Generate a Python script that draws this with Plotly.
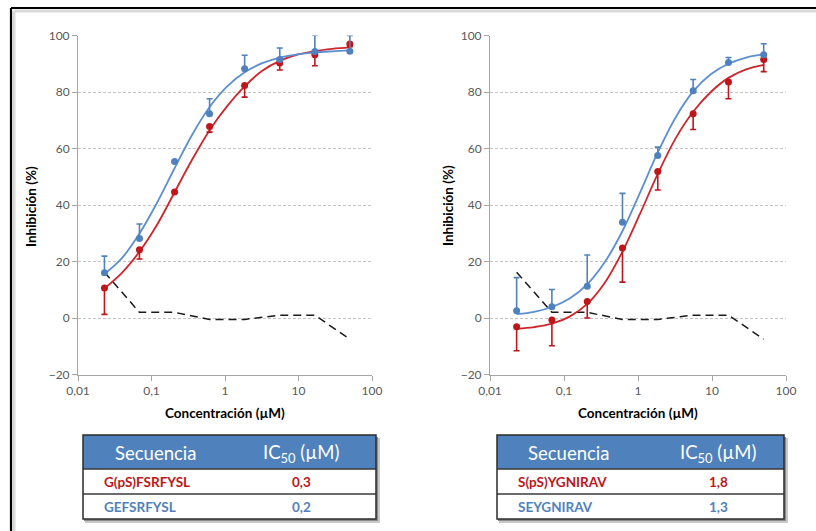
import plotly.graph_objects as go

W, H = 816, 531

# ---------------- data ----------------
conc = [0.0229, 0.0686, 0.206, 0.617, 1.85, 5.56, 16.7, 50]

# left panel
L_blue = [16.0, 28.1, 55.4, 72.3, 88.2, 91.5, 94.3, 94.4]
L_blue_err = [5.9, 5.2, 0.0, 5.3, 4.8, 4.1, 5.8, 5.6]
L_red = [10.6, 24.2, 44.6, 67.8, 82.3, 90.3, 93.2, 97.0]
L_red_err = [9.3, 3.3, 0.0, 2.0, 4.1, 2.5, 3.9, 1.0]

# right panel
R_blue = [2.6, 4.0, 11.2, 33.9, 57.5, 80.4, 90.4, 93.2]
R_blue_err = [11.7, 6.1, 11.1, 10.2, 3.0, 4.0, 1.8, 3.9]
R_red = [-3.1, -0.7, 5.8, 24.8, 51.9, 72.3, 83.5, 91.5]
R_red_err = [8.5, 9.1, 5.8, 12.1, 6.6, 5.6, 5.9, 4.3]

# dashed reference line (same in both panels)
ctrl = [16.2, 2.0, 2.0, -0.5, -0.5, 1.0, 1.0, -7.5]

# fitted curves at half-step concentrations
curve_x = [0.0229, 0.0396, 0.0686, 0.119, 0.206, 0.356, 0.617, 1.07,
           1.85, 3.21, 5.56, 9.62, 16.7, 28.9, 50]
L_blue_fit = [15.6, 21.2, 29.9, 40.8, 53.0, 64.8, 74.7, 82.0,
              87.0, 90.2, 92.2, 93.3, 94.0, 94.4, 94.7]
L_red_fit = [10.5, 16.0, 23.5, 33.0, 44.5, 56.0, 66.5, 75.0,
             82.0, 87.5, 91.0, 93.2, 94.5, 95.3, 95.8]
R_blue_fit = [1.4, 2.2, 3.9, 6.9, 11.9, 19.8, 30.8, 44.5,
              58.6, 70.9, 80.2, 86.3, 90.0, 92.2, 93.4]
R_red_fit = [-3.8, -3.2, -2.0, 0.5, 5.0, 12.5, 23.5, 37.0,
             51.0, 63.5, 73.0, 80.0, 85.0, 88.0, 89.6]

x_tickvals = [0.01, 0.1, 1, 10, 100]
x_ticktext = ["0,01", "0,1", "1", "10", "100"]
y_tickvals = [-20, 0, 20, 40, 60, 80, 100]

table_header = ["Secuencia", "IC<sub>50</sub> (µM)"]
L_seq = ["G(pS)FSRFYSL", "GEFSRFYSL"]
L_ic50 = ["0,3", "0,2"]
R_seq = ["S(pS)YGNIRAV", "SEYGNIRAV"]
R_ic50 = ["1,8", "1,3"]

# ---------------- styles ----------------
BLUE = "#4F81BD"
BLUE_L = "#5B8FD3"
RED = "#C0151B"
RED_L = "#D0262B"
FONT = "Lato"

fig = go.Figure()


def add_panel(xa, ya, blue, berr, red, rerr, bfit, rfit):
    zeros = [0] * len(conc)
    fig.add_trace(go.Scatter(x=conc, y=ctrl, mode="lines", xaxis=xa, yaxis=ya,
                             line=dict(color="#1a1a1a", width=1.5, dash="8px,5px"),
                             showlegend=False, hoverinfo="skip"))
    fig.add_trace(go.Scatter(x=curve_x, y=rfit, mode="lines", xaxis=xa, yaxis=ya,
                             line=dict(color=RED_L, width=1.8, shape="spline"),
                             showlegend=False))
    fig.add_trace(go.Scatter(x=curve_x, y=bfit, mode="lines", xaxis=xa, yaxis=ya,
                             line=dict(color=BLUE_L, width=1.8, shape="spline"),
                             showlegend=False))
    fig.add_trace(go.Scatter(x=conc, y=red, mode="markers", xaxis=xa, yaxis=ya,
                             marker=dict(color=RED, size=7),
                             error_y=dict(type="data", symmetric=False, array=zeros,
                                          arrayminus=rerr, color=RED, thickness=1.6, width=3),
                             showlegend=False))
    fig.add_trace(go.Scatter(x=conc, y=blue, mode="markers", xaxis=xa, yaxis=ya,
                             marker=dict(color=BLUE, size=7),
                             error_y=dict(type="data", symmetric=False, array=berr,
                                          arrayminus=zeros, color=BLUE, thickness=1.6, width=3),
                             showlegend=False))


add_panel("x", "y", L_blue, L_blue_err, L_red, L_red_err, L_blue_fit, L_red_fit)
add_panel("x2", "y2", R_blue, R_blue_err, R_red, R_red_err, R_blue_fit, R_red_fit)

xcommon = dict(type="log", range=[-2, 2], tickvals=x_tickvals, ticktext=x_ticktext,
               showgrid=False, showline=True, linecolor="#A6A6A6", linewidth=1,
               ticks="outside", ticklen=5, tickcolor="#A6A6A6", automargin=False,
               tickfont=dict(family=FONT, size=12, color="#595959"), zeroline=False)
ycommon = dict(range=[-20, 100], tickvals=y_tickvals, showgrid=True,
               gridcolor="#C4C4C4", griddash="3px,2px", gridwidth=1,
               showline=True, linecolor="#A6A6A6", linewidth=1, automargin=False,
               ticks="outside", ticklen=5, tickcolor="#A6A6A6",
               tickfont=dict(family=FONT, size=12, color="#595959"), zeroline=False)

Y0, Y1 = 1 - 374.5 / H, 1 - 35.5 / H
fig.update_layout(
    template="none",
    width=W, height=H, margin=dict(l=0, r=0, t=0, b=0, pad=0, autoexpand=False),
    paper_bgcolor="white", plot_bgcolor="white",
    xaxis=dict(domain=[78 / W, 372 / W], anchor="y", **xcommon),
    yaxis=dict(domain=[Y0, Y1], anchor="x", **ycommon),
    xaxis2=dict(domain=[490 / W, 786 / W], anchor="y2", **xcommon),
    yaxis2=dict(domain=[Y0, Y1], anchor="x2", **ycommon),
    showlegend=False,
)


def px(x):
    return x / W


def py(y):
    return 1 - y / H


shapes = []
annotations = []

# outer frame (left and top edges only visible)
shapes.append(dict(type="line", xref="paper", yref="paper", x0=px(14), x1=px(14),
                   y0=0, y1=py(11), line=dict(color="#D9D9D9", width=3)))
shapes.append(dict(type="line", xref="paper", yref="paper", x0=px(14), x1=1,
                   y0=py(11), y1=py(11), line=dict(color="#D9D9D9", width=3)))
shapes.append(dict(type="line", xref="paper", yref="paper", x0=px(11), x1=px(11),
                   y0=0, y1=py(8), line=dict(color="black", width=2.2)))
shapes.append(dict(type="line", xref="paper", yref="paper", x0=px(11), x1=1,
                   y0=py(8), y1=py(8), line=dict(color="black", width=2.2)))


def ann(text, x, y, size, color, xanchor="center", angle=0):
    annotations.append(dict(text=text, x=px(x), y=py(y), xref="paper", yref="paper",
                            xanchor=xanchor, yanchor="middle", textangle=angle,
                            showarrow=False, font=dict(family=FONT, size=size, color=color)))


# axis titles
for xc in (31, 448):
    ann("<b>Inhibición (%)</b>", xc, 206, 13.5, "black", angle=-90)
for xc in (225, 638):
    ann("<b>Concentración (µM)</b>", xc, 413, 13.5, "black")


def add_table(x0, x1, seqs, vals, c1, c2):
    top, hb, r1, r2 = 435, 469, 494, 519
    # shadow
    shapes.append(dict(type="rect", xref="paper", yref="paper", x0=px(x0 + 2), x1=px(x1 + 4),
                       y0=py(r2 + 4), y1=py(top + 3), fillcolor="#C8C8C8",
                       line=dict(width=0), layer="below"))
    shapes.append(dict(type="rect", xref="paper", yref="paper", x0=px(x0 + 1), x1=px(x1 + 2),
                       y0=py(r2 + 2), y1=py(top + 2), fillcolor="#8C8C8C",
                       line=dict(width=0), layer="below"))
    shapes.append(dict(type="rect", xref="paper", yref="paper", x0=px(x0), x1=px(x1),
                       y0=py(hb), y1=py(top), fillcolor="#4F81BD", line=dict(width=0)))
    shapes.append(dict(type="rect", xref="paper", yref="paper", x0=px(x0), x1=px(x1),
                       y0=py(r2), y1=py(hb), fillcolor="white", line=dict(width=0)))
    for yy in (hb, r1):
        shapes.append(dict(type="line", xref="paper", yref="paper", x0=px(x0), x1=px(x1),
                           y0=py(yy), y1=py(yy), line=dict(color="#3a3a3a", width=1.3)))
    shapes.append(dict(type="rect", xref="paper", yref="paper", x0=px(x0), x1=px(x1),
                       y0=py(r2), y1=py(top), line=dict(color="#2b2b2b", width=1.5)))
    ann(table_header[0], x0 + c1, (top + hb) / 2 + 1, 18.5, "white")
    ann(table_header[1], x0 + c2, (top + hb) / 2 + 1, 18.5, "white")
    colors = [RED, BLUE]
    for i, (ya, yb) in enumerate([(hb, r1), (r1, r2)]):
        ann("<b>%s</b>" % seqs[i], x0 + 19, (ya + yb) / 2, 13.5, colors[i], xanchor="left")
        ann("<b>%s</b>" % vals[i], x0 + c2, (ya + yb) / 2, 13.5, colors[i])


add_table(83, 376, L_seq, L_ic50, 72, 218)
add_table(497, 784, R_seq, R_ic50, 71, 221)

fig.update_layout(shapes=shapes, annotations=annotations)
fig.write_html("out.html", config={"displayModeBar": False},
               post_script="document.body.style.margin='0';document.body.style.overflow='hidden';")
